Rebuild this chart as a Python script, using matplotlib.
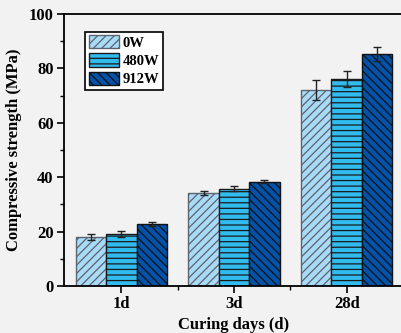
import matplotlib
matplotlib.use("Agg")
import matplotlib.pyplot as plt
import numpy as np

# Curing ages and compressive strength data
categories = ["1d", "3d", "28d"]
series_names = ["0W", "480W", "912W"]
strength_0w = [18.0, 34.2, 72.0]
strength_480w = [19.0, 35.8, 76.1]
strength_912w = [22.8, 38.4, 85.3]
err_0w = [1.0, 0.8, 3.6]
err_480w = [1.1, 1.0, 2.9]
err_912w = [0.7, 0.6, 2.6]

plt.rcParams["font.family"] = ["Liberation Serif", "DejaVu Serif"]
plt.rcParams["font.weight"] = "bold"
plt.rcParams["hatch.linewidth"] = 0.9

bg = "#f2f2f2"
fig = plt.figure(figsize=(4.01, 3.33), dpi=100, facecolor=bg)
ax = fig.add_axes([64 / 401, 47 / 333, 1.005 - 64 / 401, (286 - 14) / 333])
ax.set_facecolor(bg)

values = [strength_0w, strength_480w, strength_912w]
errors = [err_0w, err_480w, err_912w]
colors = ["#a9dbf9", "#31bbef", "#0152a8"]
edges = ["#5a6470", "#1a1a1a", "#111111"]
hatches = ["////", "---", "\\\\\\\\"]

x = np.arange(len(categories))
w = 0.27
for i, (vals, errs) in enumerate(zip(values, errors)):
    pos = x + (i - 1) * w
    ax.bar(pos, vals, width=w, color=colors[i], edgecolor=edges[i],
           hatch=hatches[i], linewidth=1.0, label=series_names[i], zorder=2)
    ax.errorbar(pos, vals, yerr=errs, fmt="none", ecolor="#222222",
                elinewidth=1.0, capsize=3, capthick=1.0, zorder=3)

ax.set_xlim(-0.51, 2.5)
ax.set_ylim(0, 100)
ax.set_xticks(x)
ax.set_xticklabels(categories)
ax.set_xticks([0.5, 1.5], minor=True)
ax.set_yticks([0, 20, 40, 60, 80, 100])
ax.set_yticks([10, 30, 50, 70, 90], minor=True)

ax.tick_params(axis="both", which="major", direction="out", length=5, width=1.2,
               labelsize=12, pad=2.5)
ax.tick_params(axis="both", which="minor", direction="out", length=3, width=1.0)
for lab in ax.get_xticklabels() + ax.get_yticklabels():
    lab.set_fontweight("bold")

for side in ["left", "bottom", "top", "right"]:
    ax.spines[side].set_linewidth(1.3)

ax.set_xlabel("Curing days (d)", fontsize=12, fontweight="bold", labelpad=3)
ax.set_ylabel("Compressive strength (MPa)", fontsize=12, fontweight="bold",
              labelpad=5)

leg = ax.legend(loc="upper left", bbox_to_anchor=(0.062, 0.935),
                prop={"weight": "bold", "size": 10.5}, frameon=True, fancybox=False,
                handlelength=2.1, handleheight=1.0, handletextpad=0.25,
                labelspacing=0.25, borderpad=0.25, borderaxespad=0.0)
leg.get_frame().set_edgecolor("black")
leg.get_frame().set_linewidth(1.2)
leg.get_frame().set_facecolor("white")
leg.get_frame().set_alpha(1.0)

fig.savefig("out.png", dpi=100, facecolor=bg)
